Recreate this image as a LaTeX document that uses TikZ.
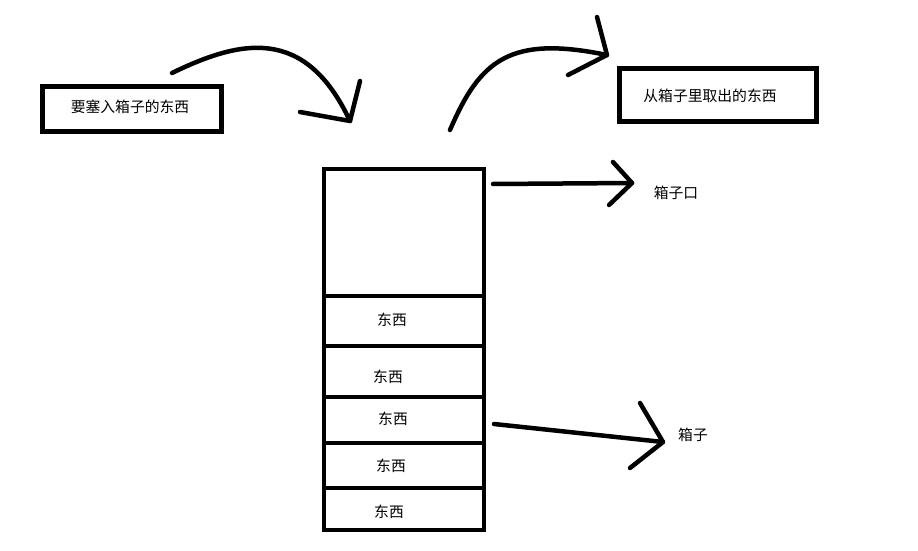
\documentclass[tikz,border=0pt]{standalone}
\usepackage{fontspec}
\setmainfont{Noto Sans CJK SC}
\usetikzlibrary{shapes}

\begin{document}
\begin{tikzpicture}[x=1pt,y=-1pt]
\tikzstyle{box1}=[rectangle, draw, line width=5pt, inner sep=0pt]
\tikzstyle{cell}=[rectangle, draw, line width=4.5pt, inner sep=0pt, minimum width=160pt]
\tikzstyle{word}=[inner sep=0pt, font=\fontsize{14.8}{17}\selectfont]
\tikzstyle{pen}=[line width=4.5pt, line cap=round, line join=round]
\useasboundingbox (0,0) rectangle (918,551);

\node[box1, minimum width = 179pt, minimum height = 45pt] (putbox) at (131.5,108.5) {};
\node[word] (puttext) at (130,107) {要塞入箱子的东西};
\node[box1, minimum width = 197pt, minimum height = 52pt] (takebox) at (717.5,95) {};
\node[word] (taketext) at (710,96) {从箱子里取出的东西};

% the box
\node[cell, minimum height = 127pt] (top) at (404,232.5) {};
\node[cell, minimum height = 50pt] (c1) at (404,321) {};
\node[cell, minimum height = 51pt] (c2) at (404,371.5) {};
\node[cell, minimum height = 46pt] (c3) at (404,420) {};
\node[cell, minimum height = 45pt] (c4) at (404,465.5) {};
\node[cell, minimum height = 42pt] (c5) at (404,509) {};
\node[word] (t1) at (392,320) {东西};
\node[word] (t2) at (388,377) {东西};
\node[word] (t3) at (393,419) {东西};
\node[word] (t4) at (391,466) {东西};
\node[word] (t5) at (389,512) {东西};

\node[word] (mouth) at (676,193) {箱子口};
\node[word] (boxname) at (693,435) {箱子};

% hand drawn arrows
\coordinate (p0) at (172,73);
\coordinate (p1) at (350,121);
\coordinate (q0) at (450,130);
\coordinate (q1) at (607,55);
\coordinate (m0) at (493,184);
\coordinate (m1) at (632,183);
\coordinate (b0) at (494,424);
\coordinate (b1) at (663,442);

\draw[pen] (p0) .. controls (240,40) and (305,25) .. (p1);
\draw[pen] (360,81) -- (p1) -- (300,112);
\draw[pen] (q0) .. controls (480,60) and (510,35) .. (q1);
\draw[pen] (597,17) -- (q1) -- (568,75);
\draw[pen] (m0) -- (m1);
\draw[pen] (613,162) -- (m1) -- (609,205);
\draw[pen] (b0) -- (b1);
\draw[pen] (640,403) -- (b1) -- (630,468);
\end{tikzpicture}
\end{document}
